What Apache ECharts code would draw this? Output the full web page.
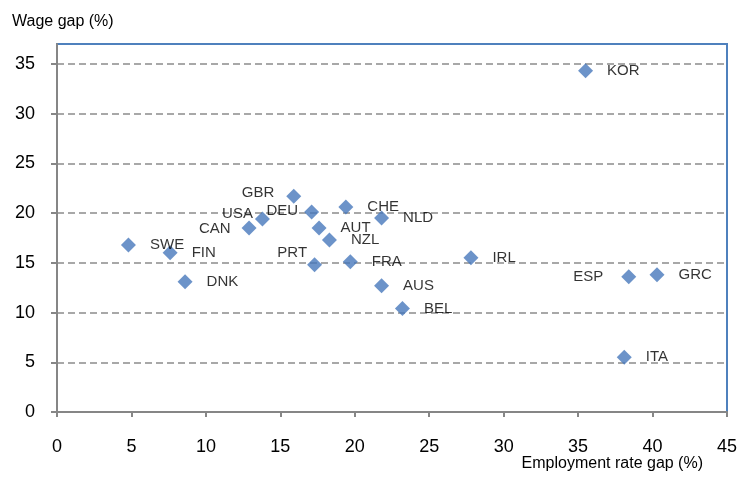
<!DOCTYPE html>
<html>
<head>
<meta charset="utf-8">
<script src="https://cdn.jsdelivr.net/npm/echarts@6/dist/echarts.min.js"></script>
<style>
  html, body { margin: 0; padding: 0; background: #fff; }
  #chart { width: 741px; height: 477px; }
</style>
</head>
<body>
<div id="chart"></div>
<script>
// country codes, employment rate gap (x) and wage gap (y)
const countries = ['KOR', 'GBR', 'DEU', 'CHE', 'NLD', 'USA', 'CAN', 'AUT', 'NZL', 'SWE', 'FIN', 'PRT', 'FRA', 'IRL', 'DNK', 'AUS', 'ESP', 'GRC', 'BEL', 'ITA'];
const employmentGap = [35.5, 15.9, 17.1, 19.4, 21.8, 13.8, 12.9, 17.6, 18.3, 4.8, 7.6, 17.3, 19.7, 27.8, 8.6, 21.8, 38.4, 40.3, 23.2, 38.1];
const wageGap = [34.3, 21.7, 20.1, 20.6, 19.5, 19.4, 18.5, 18.5, 17.3, 16.8, 16.0, 14.8, 15.1, 15.5, 13.1, 12.7, 13.6, 13.8, 10.4, 5.5];

const xTicks = [0, 5, 10, 15, 20, 25, 30, 35, 40, 45];
const yTicks = [0, 5, 10, 15, 20, 25, 30, 35];

// labels that sit to the left of their marker (everything else goes right)
const leftLabels = {
  GBR: { distance: 12, offset: [0, -3] },
  DEU: { distance: 6, offset: [0, -1] },
  USA: { distance: 2, offset: [0, -5] },
  CAN: { distance: 11, offset: [0, 1] },
  PRT: { distance: 0, offset: [0, -12] },
  ESP: { distance: 18, offset: [0, 0] }
};

const font = 'Liberation Sans, Arial, sans-serif';

const points = countries.map(function (c, i) {
  let item = { name: c, value: [employmentGap[i], wageGap[i]] };
  if (leftLabels[c]) {
    item.label = {
      position: 'left',
      distance: leftLabels[c].distance,
      offset: leftLabels[c].offset
    };
  }
  return item;
});

const chart = echarts.init(document.getElementById('chart'));
chart.setOption({
  animation: false,
  title: [
    {
      text: 'Wage gap (%)',
      left: 12, top: 14, padding: 0,
      textStyle: { fontSize: 16, fontWeight: 'normal', color: '#000', fontFamily: font }
    },
    {
      text: 'Employment rate gap (%)',
      right: 38, top: 456, padding: 0,
      textStyle: { fontSize: 16, fontWeight: 'normal', color: '#000', fontFamily: font }
    }
  ],
  grid: {
    left: 57, right: 14, top: 44, bottom: 65,
    show: true,
    borderColor: '#4f81bd',
    borderWidth: 2
  },
  xAxis: {
    type: 'value',
    min: 0, max: 45, interval: 5,
    axisLine: { lineStyle: { color: '#868686', width: 2 } },
    axisTick: { show: true, length: 5, lineStyle: { color: '#868686', width: 2 } },
    axisLabel: { color: '#000', fontSize: 18, fontFamily: font, margin: 26, customValues: xTicks },
    splitLine: { show: false }
  },
  yAxis: {
    type: 'value',
    min: 0, max: 37, interval: 5,
    axisLine: { show: true, lineStyle: { color: '#868686', width: 2 } },
    axisTick: { show: true, length: 6, lineStyle: { color: '#868686', width: 2 }, customValues: yTicks },
    axisLabel: { color: '#000', fontSize: 18, fontFamily: font, margin: 22, customValues: yTicks },
    splitLine: { show: true, lineStyle: { color: '#8c8c8c', width: 1.5, type: [7, 4] } }
  },
  series: [
    {
      type: 'scatter',
      symbol: 'diamond',
      symbolSize: 15,
      itemStyle: { color: '#4778bb' },
      label: {
        show: true,
        position: 'right',
        distance: 14,
        formatter: '{b}',
        color: '#000',
        fontSize: 15,
        fontFamily: font
      },
      data: points
    }
  ]
});
</script>
</body>
</html>
